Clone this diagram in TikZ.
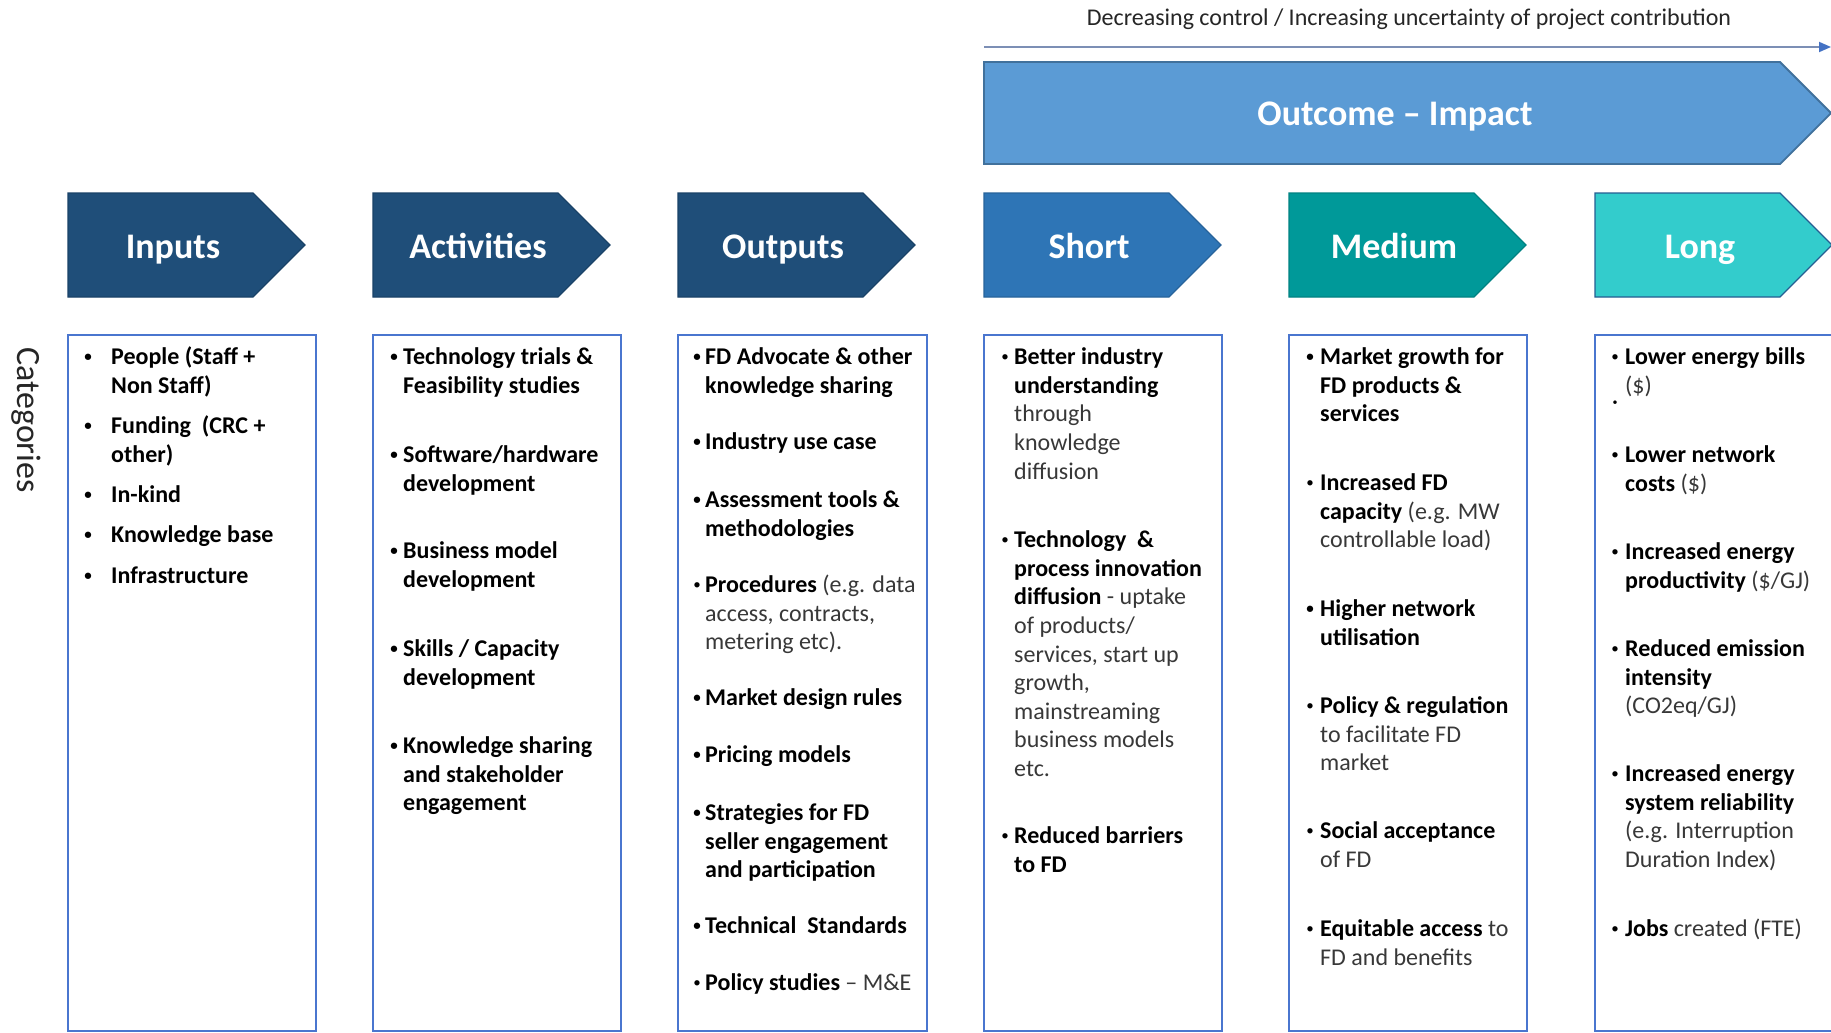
\documentclass[tikz,border=0pt]{standalone}
\usepackage{fontspec}
\setmainfont{Carlito}
\usetikzlibrary{arrows.meta}
\definecolor{navy}{HTML}{1F4E79}
\definecolor{shortc}{HTML}{2E75B6}
\definecolor{medc}{HTML}{009999}
\definecolor{longc}{HTML}{33CCCC}
\definecolor{outc}{HTML}{5B9BD5}
\definecolor{outedge}{HTML}{41719C}
\definecolor{boxedge}{HTML}{4A76CF}
\definecolor{txtgray}{HTML}{383838}
\definecolor{arrline}{HTML}{7C8FB5}
\definecolor{arrhead}{HTML}{4472C4}
\newcommand{\B}[1]{\textbf{\color{black}#1}}
\newcommand{\smallbul}{\raisebox{3.5pt}{\fontsize{15}{15}\selectfont\color{black}\textbullet}}
\newcommand{\chevpath}[3]{%
  \filldraw[fill=#2, draw=#3, line width=1.2pt] (#1,193) -- ++(185,0) -- ++(52,52) -- ++(-52,52) -- ++(-185,0) -- cycle;}
\tikzset{
  chevlabel/.style={text=white, font=\fontsize{36}{43}\selectfont\bfseries, anchor=base, inner sep=0pt},
  colbox/.style={draw=boxedge, line width=1.6pt},
  bitem/.style={anchor=north west, yshift=16.5pt, align=left, inner sep=0pt, text=txtgray, font=\fontsize{24}{28.6}\selectfont},
  bitemb/.style={bitem, text=black, font=\fontsize{24}{28.6}\selectfont\bfseries},
}
\newcommand{\itm}[6][bitem]{\node[#1] (#2) at (#3,#4) {\strut\llap{\makebox[0pt]{\smallbul}\hspace{#5pt}}#6};}
\begin{document}
\begin{tikzpicture}[x=1pt,y=-1pt]
\useasboundingbox (0,0) rectangle (1831,1033);
\fill[white] (0,0) rectangle (1831,1033);
% top arrow and caption
\coordinate (arrS) at (984,47);
\coordinate (arrE) at (1831,47);
\draw[arrline, line width=1.8pt, -{Triangle[length=12pt,width=10pt,fill=arrhead,color=arrhead]}] (arrS) -- (arrE);
\node[anchor=base, inner sep=0pt, font=\fontsize{24}{28}\selectfont, text=black!85] (cap) at (1409,26) {Decreasing control / Increasing uncertainty of project contribution};
% outcome - impact
\filldraw[fill=outc, draw=outedge, line width=1.8pt] (984,62) -- (1780,62) -- (1831,113) -- (1780,164) -- (984,164) -- cycle;
\node[chevlabel] (oi) at (1395,125) {Outcome -- Impact};
% chevrons
\chevpath{68}{navy}{navy!85!black}
\chevpath{373}{navy}{navy!85!black}
\chevpath{678}{navy}{navy!85!black}
\chevpath{984}{shortc}{shortc!85!black}
\chevpath{1289}{medc}{medc!85!black}
\chevpath{1595}{longc}{shortc!80!black}
\node[chevlabel] (hin) at (173,258) {Inputs};
\node[chevlabel] (hact) at (478,258) {Activities};
\node[chevlabel] (hout) at (783,258) {Outputs};
\node[chevlabel] (hsh) at (1089,258) {Short};
\node[chevlabel] (hmed) at (1394,258) {Medium};
\node[chevlabel] (hlong) at (1700,258) {Long};
% categories
\node[rotate=-90, inner sep=0pt, font=\fontsize{34}{40}\selectfont, text=black!85] (cat) at (26,420) {Categories};
% boxes
\draw[colbox] (68,335) rectangle (316,1031);
\draw[colbox] (373,335) rectangle (621,1031);
\draw[colbox] (678,335) rectangle (927,1031);
\draw[colbox] (984,335) rectangle (1222,1031);
\draw[colbox] (1289,335) rectangle (1527,1031);
\draw[colbox] (1595,335) rectangle (1850,1031);
% inputs
\itm[bitemb]{i1}{111}{361}{23}{People (Staff +\\Non Staff)}
\itm[bitemb]{i2}{111}{430}{23}{Funding\ \ (CRC +\\other)}
\itm[bitemb]{i3}{111}{499}{23}{In-kind}
\itm[bitemb]{i4}{111}{539}{23}{Knowledge base}
\itm[bitemb]{i5}{111}{580}{23}{Infrastructure}
% activities
\itm[bitemb]{a1}{403}{361}{9}{Technology trials \&\\Feasibility studies}
\itm[bitemb]{a2}{403}{459}{9}{Software/hardware\\development}
\itm[bitemb]{a3}{403}{555}{9}{Business model\\development}
\itm[bitemb]{a4}{403}{653}{9}{Skills / Capacity\\development}
\itm[bitemb]{a5}{403}{750}{9}{Knowledge sharing\\and stakeholder\\engagement}
% outputs
\itm[bitemb]{o1}{705}{361}{8}{FD Advocate \& other\\knowledge sharing}
\itm[bitemb]{o2}{705}{446}{8}{Industry use case}
\itm[bitemb]{o3}{705}{504}{8}{Assessment tools \&\\methodologies}
\itm{o4}{705}{589}{8}{\B{Procedures} (e.g. data\\access, contracts,\\metering etc).}
\itm[bitemb]{o5}{705}{702}{8}{Market design rules}
\itm[bitemb]{o6}{705}{759}{8}{Pricing models}
\itm[bitemb]{o7}{705}{817}{8}{Strategies for FD\\seller engagement\\and participation}
\itm[bitemb]{o8}{705}{930}{8}{Technical\ \ Standards}
\itm{o9}{705}{987}{8}{\B{Policy studies} -- M\&E}
% short
\itm{s1}{1014}{361}{9}{\B{Better industry}\\\B{understanding}\\through\\knowledge\\diffusion}
\itm{s2}{1014}{544}{9}{\B{Technology\ \ \&}\\\B{process innovation}\\\B{diffusion} - uptake\\of products/\\services, start up\\growth,\\mainstreaming\\business models\\etc.}
\itm{s3}{1014}{840}{9}{\B{Reduced barriers}\\\B{to FD}}
% medium
\itm[bitemb]{m1}{1320}{361}{10}{Market growth for\\FD products \&\\services}
\itm{m2}{1320}{487}{10}{\B{Increased FD}\\\B{capacity} (e.g. MW\\controllable load)}
\itm[bitemb]{m3}{1320}{613}{10}{Higher network\\utilisation}
\itm{m4}{1320}{710}{10}{\B{Policy \& regulation}\\to facilitate FD\\market}
\itm{m5}{1320}{835}{10}{\B{Social acceptance}\\of FD}
\itm{m6}{1320}{933}{10}{\B{Equitable access} to\\FD and benefits}
% long
\itm{l1}{1625}{361}{10}{\B{Lower energy bills}\\(\$)}
\node[inner sep=0pt, font=\fontsize{10}{12}\selectfont] (ldot) at (1615,403) {\textbullet};
\itm{l2}{1625}{459}{10}{\B{Lower network}\\\B{costs} (\$)}
\itm{l3}{1625}{556}{10}{\B{Increased energy}\\\B{productivity} (\$/GJ)}
\itm{l4}{1625}{653}{10}{\B{Reduced emission}\\\B{intensity}\\(CO2eq/GJ)}
\itm{l5}{1625}{778}{10}{\B{Increased energy}\\\B{system reliability}\\(e.g. Interruption\\Duration Index)}
\itm{l6}{1625}{933}{10}{\B{Jobs} created (FTE)}
\end{tikzpicture}
\end{document}
